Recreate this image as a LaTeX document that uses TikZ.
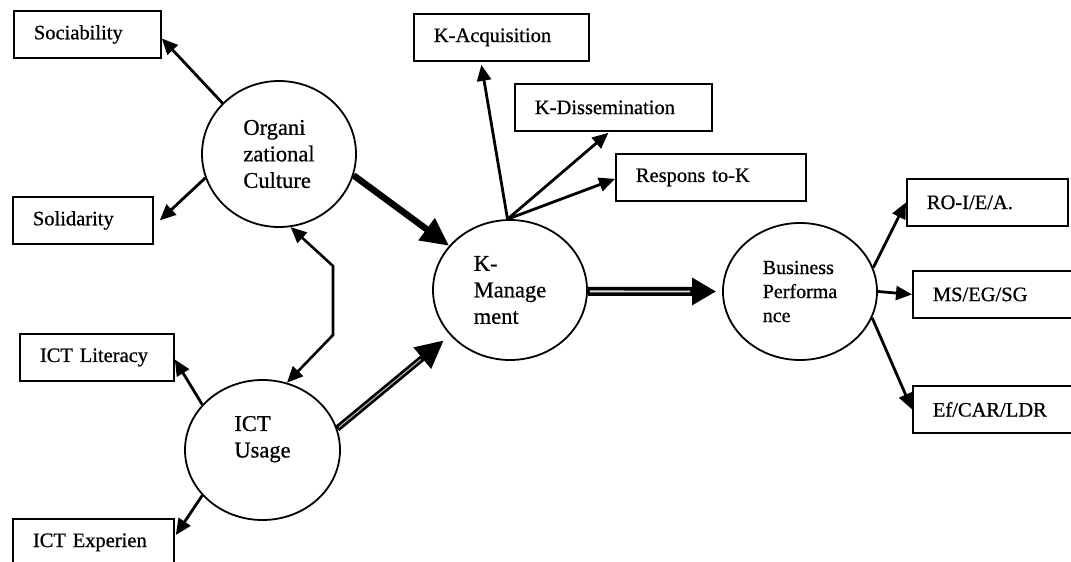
\documentclass[tikz,border=0pt]{standalone}
\usepackage{fontspec}
\setmainfont{Liberation Serif}[FakeBold=0.7]
\usetikzlibrary{arrows.meta,shapes.geometric}
\begin{document}
\begin{tikzpicture}[x=1pt,y=-1pt,
  box/.style={draw, line width=1.8pt, inner xsep=20pt, inner ysep=0pt, minimum height=47pt, align=left, anchor=north west, font=\fontsize{20.5}{24}\selectfont},
  circ/.style={draw, ellipse, line width=1.8pt, inner sep=0pt, align=left, font=\fontsize{22.5}{26.5}\selectfont},
  thinar/.style={line width=2.8pt, -{Triangle[length=16pt,width=14pt]}},
  dblar/.style={line width=2.6pt, {Triangle[length=16pt,width=14pt]}-{Triangle[length=16pt,width=14pt]}},
  thickar/.style={line width=6.5pt, -{Triangle[length=28pt,width=26pt]}},
  widear/.style={line width=9pt, -{Triangle[length=24pt,width=26pt]}},
  streak/.style={line width=1.2pt, gray!65}]
\clip (0,0) rectangle (1071,562);
\fill[white] (0,0) rectangle (1071,562);

% boxes
\node[box, text width=107pt] (soc) at (13,10) {Sociability};
\node[box, text width=100pt] (sol) at (12,196) {Solidarity};
\node[box, text width=114pt] (lit) at (19,333) {ICT Literacy};
\node[box, text width=121pt] (exp) at (12,518) {ICT Experien};
\node[box, text width=135pt] (kacq) at (413,13) {K-Acquisition};
\node[box, text width=157pt] (kdis) at (514,83) {K-Dissemination};
\node[box, text width=150pt] (resp) at (615,153) {Respons to-K};
\node[box, text width=121pt] (ro) at (906,178) {RO-I/E/A.};
\node[box, text width=130pt] (ms) at (912,270) {MS/EG/SG};
\node[box, text width=130pt] (ef) at (912,385) {Ef/CAR/LDR};

% ellipses
\node[circ, minimum width=154pt, minimum height=146pt] (oc) at (279,154) {Organi\\zational\hspace*{10pt}\\Culture};
\node[circ, minimum width=155pt, minimum height=140pt] (ict) at (262.5,450) {ICT\\Usage\hspace*{24pt}\\\mbox{}};
\node[circ, minimum width=154pt, minimum height=140pt] (km) at (510,290) {K-\\Manage\\ment};
\node[circ, minimum width=154pt, minimum height=137pt, font=\fontsize{20}{24}\selectfont] (bp) at (800,291.5) {Business\\Performa\\nce};

\coordinate (j1) at (333,266);
\coordinate (j2) at (333,335);

% connectors
\draw[thinar] (oc.138) -- ([shift={(0,4)}]soc.east);
\draw[thinar] (oc.198) -- ([shift={(6,0)}]sol.east);
\draw[dblar] (oc.-81) -- (j1) -- (j2) -- (ict.70);
\draw[thinar] (ict.143) -- ([shift={(0,2)}]lit.east);
\draw[thinar] (ict.217) -- ([shift={(1,17)}]exp.north east);

\draw[thickar] (oc.-16) -- (km.144);
\draw[thickar, shorten >=8pt] (ict.16) -- (km.217);
\draw[streak, shorten >=38pt, shorten <=2pt] (ict.16) -- (km.217);
\draw[widear, shorten >=6pt] (km.-1) -- (bp.west);
\draw[streak, line width=1.8pt, gray!25, shorten >=32pt, shorten <=2pt] (km.-1) -- (bp.west);

\draw[thinar] (km.92) -- ([shift={(-20,3)}]kacq.south);
\draw[thinar] (km.92) -- ([shift={(-5,1)}]kdis.south);
\draw[thinar] (km.92) -- ([shift={(0,1.5)}]resp.west);

\draw[thinar] (bp.18.6) -- (ro.west);
\draw[thinar] (bp.east) -- (ms.west);
\draw[thinar] (bp.-20.7) -- (ef.west);
\end{tikzpicture}
\end{document}
